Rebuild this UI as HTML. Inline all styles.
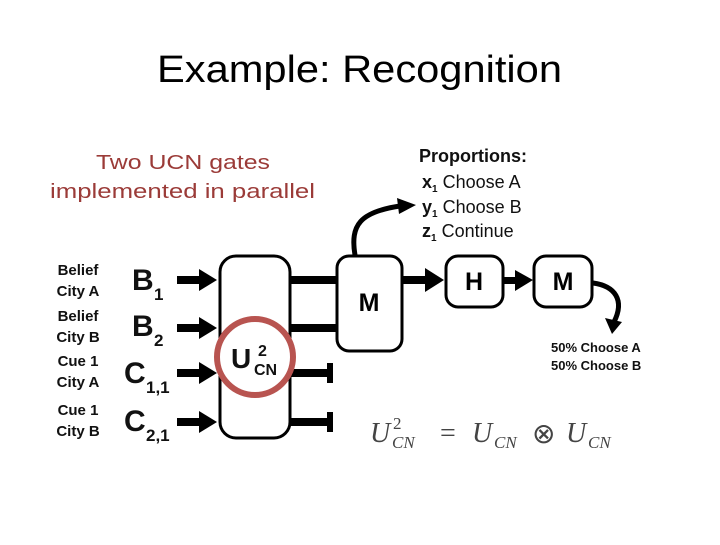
<!DOCTYPE html>
<html><head><style>
body{margin:0;width:720px;height:540px;background:#fff;overflow:hidden;font-family:"Liberation Sans",sans-serif}
</style></head><body>
<svg width="720" height="540" viewBox="0 0 720 540" xmlns="http://www.w3.org/2000/svg" font-family="Liberation Sans, sans-serif">
<text x="157" y="82" font-size="38" fill="#000" textLength="405" lengthAdjust="spacingAndGlyphs">Example: Recognition</text>
<text x="96" y="169" font-size="20" fill="#9b3b38" textLength="174" lengthAdjust="spacingAndGlyphs">Two UCN gates</text>
<text x="50" y="198" font-size="20" fill="#9b3b38" textLength="265" lengthAdjust="spacingAndGlyphs">implemented in parallel</text>
<g font-weight="bold" font-size="15" fill="#111" text-anchor="middle">
<text x="78" y="275">Belief</text><text x="78" y="296">City A</text>
<text x="78" y="321">Belief</text><text x="78" y="342">City B</text>
<text x="78" y="366">Cue 1</text><text x="78" y="387">City A</text>
<text x="78" y="415">Cue 1</text><text x="78" y="436">City B</text>
</g>
<g font-weight="bold" fill="#111">
<text x="132" y="290" font-size="30">B</text><text x="154" y="300" font-size="17">1</text>
<text x="132" y="336" font-size="30">B</text><text x="154" y="346" font-size="17">2</text>
<text x="124" y="383" font-size="30">C</text><text x="146" y="393" font-size="17">1,1</text>
<text x="124" y="431" font-size="30">C</text><text x="146" y="441" font-size="17">2,1</text>
</g>
<g fill="#000">
<rect x="177" y="276" width="24" height="8"/><polygon points="199,269 217,280 199,291"/>
<rect x="177" y="324" width="24" height="8"/><polygon points="199,317 217,328 199,339"/>
<rect x="177" y="369" width="24" height="8"/><polygon points="199,362 217,373 199,384"/>
<rect x="177" y="418" width="24" height="8"/><polygon points="199,411 217,422 199,433"/>
<rect x="290" y="276" width="48" height="8"/>
<rect x="290" y="324" width="48" height="8"/>
<rect x="290" y="369" width="40" height="8"/><rect x="327" y="363" width="6" height="20"/>
<rect x="290" y="418" width="40" height="8"/><rect x="327" y="412" width="6" height="20"/>
<rect x="402" y="276" width="25" height="8"/><polygon points="425,268 444,280 425,292"/>
<rect x="503" y="277" width="14" height="7"/><polygon points="515,270 533,280 515,291"/>
</g>
<rect x="220" y="256" width="70" height="182" rx="16" fill="none" stroke="#000" stroke-width="3"/>
<circle cx="255" cy="357" r="38" fill="#fff" stroke="#b85450" stroke-width="6"/>
<text x="231" y="368" font-weight="bold" font-size="28" fill="#111">U</text>
<text x="258" y="356" font-weight="bold" font-size="16" fill="#111">2</text>
<text x="254" y="375" font-weight="bold" font-size="16" fill="#111">CN</text>
<rect x="337" y="256" width="65" height="95" rx="12" fill="#fff" stroke="#000" stroke-width="3"/>
<text x="369" y="311" text-anchor="middle" font-weight="bold" font-size="25">M</text>
<rect x="446" y="256" width="57" height="51" rx="12" fill="#fff" stroke="#000" stroke-width="3"/>
<text x="474" y="290" text-anchor="middle" font-weight="bold" font-size="25">H</text>
<rect x="534" y="256" width="58" height="51" rx="12" fill="#fff" stroke="#000" stroke-width="3"/>
<text x="563" y="290" text-anchor="middle" font-weight="bold" font-size="25">M</text>
<path d="M355,255 C350,225 360,212 400,206" fill="none" stroke="#000" stroke-width="5"/>
<polygon points="397,198 416,205 399,214"/>
<path d="M593,283 C615,286 625,300 614,322" fill="none" stroke="#000" stroke-width="5"/>
<polygon points="605,318 612,334 622,322"/>
<text x="419" y="162" font-weight="bold" font-size="18" fill="#111">Proportions:</text>
<g font-size="18" fill="#111">
<text x="422" y="188"><tspan font-weight="bold">x</tspan><tspan font-size="10" dy="4" font-weight="bold">1</tspan><tspan dy="-4"> Choose A</tspan></text>
<text x="422" y="213"><tspan font-weight="bold">y</tspan><tspan font-size="10" dy="4" font-weight="bold">1</tspan><tspan dy="-4"> Choose B</tspan></text>
<text x="422" y="237"><tspan font-weight="bold">z</tspan><tspan font-size="10" dy="4" font-weight="bold">1</tspan><tspan dy="-4"> Continue</tspan></text>
</g>
<text x="551" y="352" font-weight="bold" font-size="13" fill="#111">50% Choose A</text>
<text x="551" y="370" font-weight="bold" font-size="13" fill="#111">50% Choose B</text>
<g font-family="Liberation Serif, serif" font-style="italic" fill="#444">
<text x="370" y="442" font-size="28">U</text>
<text x="393" y="429" font-size="17" font-style="normal">2</text>
<text x="392" y="448" font-size="17">CN</text>
<text x="440" y="442" font-size="28" font-style="normal">=</text>
<text x="472" y="442" font-size="28">U</text>
<text x="494" y="448" font-size="17">CN</text>
<text x="532" y="443" font-size="28" font-style="normal">⊗</text>
<text x="566" y="442" font-size="28">U</text>
<text x="588" y="448" font-size="17">CN</text>
</g>
</svg>
</body></html>
